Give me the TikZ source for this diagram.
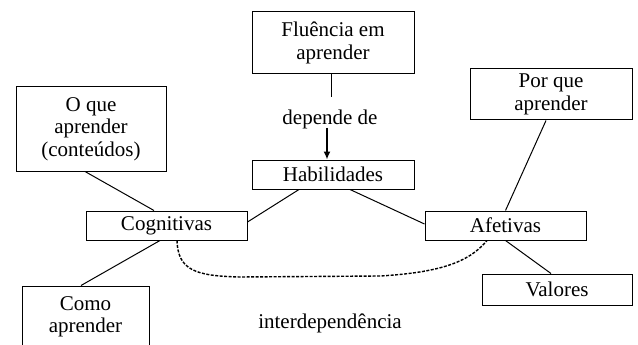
\documentclass[tikz,border=0pt]{standalone}
\usepackage{fontspec}
\setmainfont{Liberation Serif}
\usetikzlibrary{arrows.meta,calc}
\begin{document}
\begin{tikzpicture}[x=1pt,y=-1pt,
  box/.style={draw, line width=1pt, inner sep=0pt, align=center, font=\fontsize{21}{22.5}\selectfont},
  lbl/.style={inner sep=0pt, font=\fontsize{21}{22.5}\selectfont},
  con/.style={line width=1pt},
  dep/.style={line width=1.4pt, dash pattern=on 3pt off 1.5pt}]
\useasboundingbox (0,0) rectangle (638,345);
\node[box, minimum width=162pt, minimum height=62pt] (flu) at (333,43) {Fluência em\\aprender};
\node[box, minimum width=162pt, minimum height=29pt] (hab) at (333,174.5) {Habilidades};
\node[box, minimum width=150pt, minimum height=84pt] (oque) at (91,129) {O que\\aprender\\(conteúdos)};
\node[box, minimum width=161pt, minimum height=29pt] (cog) at (166.5,225.5) {Cognitivas};
\node[box, minimum width=127pt, minimum height=62pt] (como) at (85.5,317) {Como\\aprender};
\node[box, minimum width=162pt, minimum height=51pt] (por) at (551,94.5) {Por que\\aprender};
\node[box, minimum width=161pt, minimum height=29pt] (afe) at (505.5,225.5) {Afetivas};
\node[box, minimum width=150pt, minimum height=31pt] (val) at (557,289.5) {Valores};
\node[lbl] (dep) at (330,119) {depende de};
\node[lbl] (inter) at (330,323) {interdependência};
\coordinate (depTop) at (331,97);
\coordinate (depBot) at (327,128);
\draw[con] ([xshift=-2pt]flu.south) -- (depTop);
\draw[line width=1.5pt, -{Latex[length=8pt,width=7pt]}] (depBot) -- ([xshift=-6pt]hab.north);
\draw[con] ([xshift=-6pt]oque.south) -- ([xshift=-12.5pt]cog.north);
\draw[con] ([yshift=3.5pt]cog.east) -- ([xshift=-34pt]hab.south);
\draw[con] ([xshift=17pt]hab.south) -- ([yshift=1.5pt]afe.west);
\draw[con] ([xshift=-5pt]por.south) -- (afe.north);
\draw[con] (afe.south) -- ([xshift=-6pt]val.north);
\draw[con] ([xshift=-6.5pt]cog.south) -- ([xshift=-4.5pt]como.north);
\draw[dep] ([xshift=10.5pt]cog.south) .. controls (178,270) and (195,276) .. (240,277)
  -- (380,276) .. controls (450,272) and (472,258) .. ([xshift=-18.5pt]afe.south);
\end{tikzpicture}
\end{document}
